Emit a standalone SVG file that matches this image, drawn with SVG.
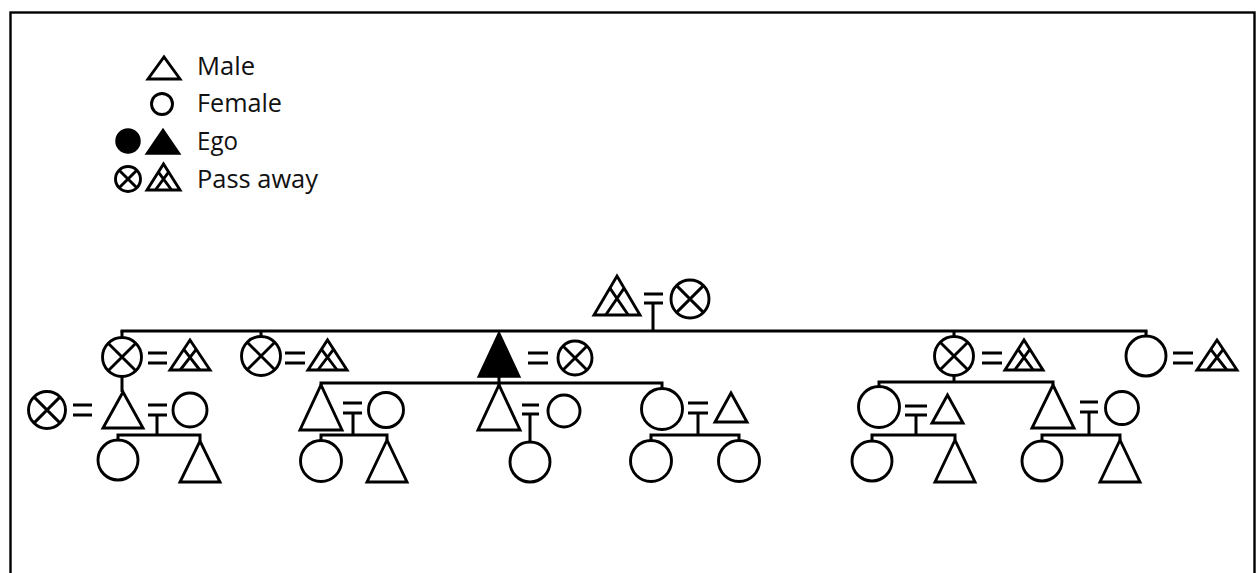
<svg xmlns="http://www.w3.org/2000/svg" width="1260" height="573" viewBox="0 0 1260 573">
<style>
.s{fill:none;stroke:#000;stroke-width:2.9;stroke-linejoin:miter}
.f{fill:#000;stroke:#000;stroke-width:1.5}
.w{fill:#fff;stroke:#000;stroke-width:2.9}
.ln{fill:none;stroke:#000;stroke-width:3}
.t{font-family:"Open Sans","Lato",sans-serif;font-size:25px;fill:#111}
</style>
<rect x="0" y="0" width="1260" height="573" fill="#fff"/>
<rect x="10.5" y="12.5" width="1244" height="600" fill="none" stroke="#000" stroke-width="2.4"/>

<g id="legend">
  <polygon class="s" points="148,79 180,79 164,57"/>
  <text class="t" x="197" y="75" textLength="58" lengthAdjust="spacingAndGlyphs">Male</text>
  <circle class="s" cx="162" cy="104" r="10.5"/>
  <text class="t" x="197" y="112" textLength="85" lengthAdjust="spacingAndGlyphs">Female</text>
  <circle class="f" cx="128" cy="141" r="12"/>
  <polygon class="f" points="146,154 180,154 163,129"/>
  <text class="t" x="197" y="150" textLength="41" lengthAdjust="spacingAndGlyphs">Ego</text>
  <circle class="s" cx="128" cy="179" r="12.5"/>
  <path class="s" d="M119.2,170.2L136.8,187.8M136.8,170.2L119.2,187.8"/>
  <polygon class="s" points="147,190 180,190 163.5,164"/>
  <path class="s" d="M155.4,190L168.6,172.1M171.6,190L158.4,172.1"/>
  <text class="t" x="197" y="188" textLength="121" lengthAdjust="spacingAndGlyphs">Pass away</text>
</g>

<g id="connectors">
  <path class="ln" d="M644,294H663M644,303H663M653,303V331"/>
  <path class="ln" d="M120.5,331H1147.5"/>
  <path class="ln" d="M122,331V338M261,331V337M954,331V337M1146,331V336"/>
  <path class="ln" d="M148,353H167M148,363H167"/>
  <path class="ln" d="M285,353H305M285,363H305"/>
  <path class="ln" d="M528,353H548M528,363H548"/>
  <path class="ln" d="M982,353H1002M982,363H1002"/>
  <path class="ln" d="M1173,353H1193M1173,363H1193"/>
  <path class="ln" d="M122,376V392"/>
  <path class="ln" d="M73,405H92M73,415H92"/>
  <path class="ln" d="M148,405H167M148,415H167M157,415V435"/>
  <path class="ln" d="M116.5,435H201.5M118,435V440M200,435V441"/>
  <path class="ln" d="M499,376V386"/>
  <path class="ln" d="M319.5,383H663.5M321,383V385M662,383V389"/>
  <path class="ln" d="M343,403H362M343,413H362M353,413V435"/>
  <path class="ln" d="M319.5,435H388.5M321,435V441M387,435V440"/>
  <path class="ln" d="M522,405H539M522,414H539M530,414V442"/>
  <path class="ln" d="M688,403H708M688,413H708M698,413V435"/>
  <path class="ln" d="M649.5,435H740.5M651,435V441M739,435V441"/>
  <path class="ln" d="M954,375V382"/>
  <path class="ln" d="M877.5,382H1054.5M879,382V387M1053,382V385"/>
  <path class="ln" d="M905,406H927M905,415H927M916,415V435"/>
  <path class="ln" d="M870.5,435H956.5M872,435V441M955,435V440"/>
  <path class="ln" d="M1080,402H1098M1080,412H1098M1089,412V435"/>
  <path class="ln" d="M1040.5,435H1121.5M1042,435V441M1120,435V440"/>
</g>

<g id="grandfather">
  <polygon class="s" points="594,315 640,315 617,276"/>
  <path class="s" d="M605.7,315L624.1,288.1M628.3,315L609.9,288.1"/>
</g>
<g id="grandmother">
  <circle class="s" cx="690" cy="299" r="19"/>
  <path class="s" d="M676.6,285.6L703.4,312.4M703.4,285.6L676.6,312.4"/>
</g>

<g id="aunt1">
  <circle class="w" cx="122" cy="357" r="19.5"/>
  <path class="s" d="M108.2,343.2L135.8,370.8M135.8,343.2L108.2,370.8"/>
</g>
<g id="aunt1-husband">
  <polygon class="s" points="170,370 210,370 190,340"/>
  <path class="s" d="M180.2,370L196.2,349.3M199.8,370L183.8,349.3"/>
</g>
<g id="aunt2">
  <circle class="w" cx="261" cy="356" r="19.5"/>
  <path class="s" d="M247.2,342.2L274.8,369.8M274.8,342.2L247.2,369.8"/>
</g>
<g id="aunt2-husband">
  <polygon class="s" points="308,370 347,370 327.5,340"/>
  <path class="s" d="M317.9,370L333.5,349.3M337.1,370L321.5,349.3"/>
</g>
<g id="ego">
  <polygon class="f" points="478,377 520,377 499,332"/>
</g>
<g id="ego-wife">
  <circle class="s" cx="575" cy="358" r="17"/>
  <path class="s" d="M563,346L587,370M587,346L563,370"/>
</g>
<g id="aunt3">
  <circle class="w" cx="954" cy="356" r="19.5"/>
  <path class="s" d="M940.2,342.2L967.8,369.8M967.8,342.2L940.2,369.8"/>
</g>
<g id="aunt3-husband">
  <polygon class="s" points="1005,370 1043,370 1024,340"/>
  <path class="s" d="M1014.7,370L1029.9,349.3M1033.3,370L1018.1,349.3"/>
</g>
<g id="aunt4">
  <circle class="w" cx="1146" cy="356" r="20"/>
</g>
<g id="aunt4-husband">
  <polygon class="s" points="1197,370 1237,370 1217,340"/>
  <path class="s" d="M1207.2,370L1223.2,349.3M1226.8,370L1210.8,349.3"/>
</g>

<g id="cousin1-wife1">
  <circle class="s" cx="47" cy="410" r="18.5"/>
  <path class="s" d="M33.9,396.9L60.1,423.1M60.1,396.9L33.9,423.1"/>
</g>
<g id="cousin1"><polygon class="w" points="103,428 143,428 123,392"/></g>
<g id="cousin1-wife2"><circle class="s" cx="190" cy="410" r="17"/></g>
<g id="cousin1-daughter"><circle class="w" cx="118" cy="460" r="20"/></g>
<g id="cousin1-son"><polygon class="w" points="180,482 220,482 200,441"/></g>

<g id="son1"><polygon class="w" points="300,430 342,430 321,385"/></g>
<g id="son1-wife"><circle class="s" cx="386" cy="410" r="17.5"/></g>
<g id="son1-daughter"><circle class="w" cx="321" cy="461" r="20.5"/></g>
<g id="son1-son"><polygon class="w" points="367,482 407,482 387,440"/></g>

<g id="son2"><polygon class="w" points="478,430 520,430 499,385"/></g>
<g id="son2-wife"><circle class="s" cx="564" cy="411" r="16"/></g>
<g id="son2-daughter"><circle class="w" cx="530" cy="462" r="20"/></g>

<g id="daughter1"><circle class="w" cx="662" cy="409" r="20.5"/></g>
<g id="daughter1-husband"><polygon class="s" points="715,422 747,422 731,393"/></g>
<g id="daughter1-child1"><circle class="w" cx="651" cy="461" r="20.5"/></g>
<g id="daughter1-child2"><circle class="w" cx="739" cy="461" r="20.5"/></g>

<g id="cousin2"><circle class="w" cx="879" cy="407" r="20.5"/></g>
<g id="cousin2-husband"><polygon class="s" points="932,423 963,423 947.5,395"/></g>
<g id="cousin2-daughter"><circle class="w" cx="872" cy="461" r="20"/></g>
<g id="cousin2-son"><polygon class="w" points="935,482 975,482 955,440"/></g>

<g id="cousin3"><polygon class="w" points="1032,428 1074,428 1053,385"/></g>
<g id="cousin3-wife"><circle class="s" cx="1122" cy="408" r="16.5"/></g>
<g id="cousin3-daughter"><circle class="w" cx="1042" cy="461" r="20"/></g>
<g id="cousin3-son"><polygon class="w" points="1100,482 1140,482 1120,440"/></g>
</svg>
